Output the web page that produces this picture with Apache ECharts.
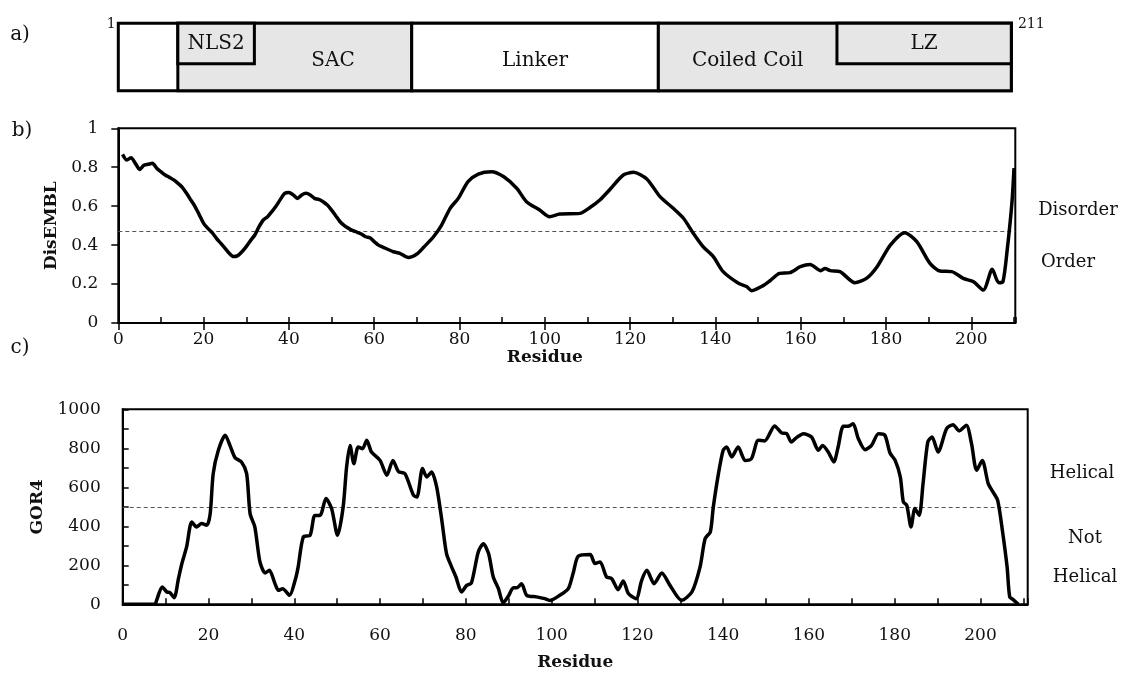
<!DOCTYPE html>
<html>
<head>
<meta charset="utf-8">
<script src="https://cdn.jsdelivr.net/npm/echarts@6/dist/echarts.min.js"></script>
<style>html,body{margin:0;padding:0;background:#fff}#main{width:1126px;height:675px}</style>
</head>
<body>
<div id="main"></div>
<script>
// ---------- data ----------
const domainNames   = ['SAC', 'NLS2', 'Linker', 'Coiled Coil', 'LZ'];
const domainStart   = [15, 15, 70, 128, 170];
const domainEnd     = [70, 33, 128, 211, 211];
const domainLow     = [0, 0.4, 0, 0, 0.4];
const domainShaded  = [true, true, false, true, true];
const sequenceEnds  = [1, 211];

const disResidue = [1,2,3,4,5,6,7,8,9,10,11,12,13,14,15,16,17,18,19,20,21,22,23,24,25,26,27,28,29,30,
  31,32,33,34,35,36,37,38,39,40,41,42,43,44,45,46,47,48,49,50,51,52,53,54,55,56,57,58,59,60,61,62,
  64.5,66,68,70,71.6,73.9,75.8,77.8,79.7,82,84.4,87.5,90.3,93.4,95.7,98.8,101.1,103.5,108.2,110.5,
  112.9,115.3,118.4,120.8,123.9,127,130.1,132.5,134.8,137.1,139.5,141.8,145.4,147.3,148.5,151.2,
  152.8,155,157.5,159.9,162.2,164.7,165.7,166.9,169.2,172.7,175.4,177.9,181,184.4,187.2,190.3,
  192.6,195.4,198.1,200.5,202.8,204.9,206.4,207.4,208.4,209.5,210];
const disValue = [0.866,0.837,0.849,0.82,0.789,0.81,0.815,0.82,0.795,0.777,0.76,0.748,0.735,0.717,0.697,
  0.666,0.632,0.598,0.555,0.512,0.486,0.464,0.435,0.41,0.384,0.358,0.341,0.346,0.366,0.392,0.423,0.452,
  0.495,0.529,0.546,0.572,0.601,0.635,0.666,0.67,0.658,0.64,0.658,0.666,0.658,0.64,0.635,0.623,0.606,
  0.58,0.55,0.52,0.5,0.486,0.474,0.466,0.457,0.443,0.438,0.418,0.40,0.39,
  0.366,0.358,0.336,0.354,0.389,0.443,0.503,0.589,0.64,0.726,0.765,0.777,0.752,0.692,0.623,0.58,0.546,
  0.56,0.563,0.592,0.632,0.687,0.76,0.774,0.74,0.649,0.589,0.538,0.461,0.392,0.341,0.264,0.204,0.187,
  0.166,0.192,0.217,0.255,0.259,0.289,0.301,0.269,0.28,0.269,0.264,0.207,0.229,0.289,0.40,0.464,0.418,
  0.306,0.267,0.264,0.229,0.212,0.169,0.276,0.207,0.212,0.375,0.615,0.795];

const gorResidue = [0,7.5,7.9,9.2,10.3,11,12,13,13.8,14.9,16.1,17.2,18.4,19.6,20.4,21.1,22.3,23.9,25,26.2,
  27.7,28.9,29.7,30.8,32,33.2,34.2,35.5,36.3,37.3,38.9,40.2,40.9,42.1,43.7,44.8,46,47.4,48.7,50.1,51.4,
  52.2,53,53.9,54.9,55.9,56.9,58,60,61.6,63,64.3,65.8,67.8,68.6,69.9,70.9,72,73.2,74.4,75.5,76.7,77.7,
  79,80.2,81.3,82.9,84.1,85.3,86.4,87.6,88.7,89.9,91.1,91.9,93,94.2,96.5,98.4,99.6,101.9,103.9,105.1,
  106.2,109,110.1,111.3,112.8,114,115.5,116.7,117.9,119.7,121,122.2,123.9,125.7,127.6,130.3,132.7,
  134.6,135.8,137,137.7,138.9,140,140.8,142,143.5,145.1,146.6,148.2,149.7,152,153.6,154.8,155.9,157.1,
  158.7,160.6,162.2,163.2,164.5,165.8,166.8,168,169.1,170.3,171.5,173.1,174.6,176.2,177.7,178.9,180.1,
  181.3,182,182.8,183.8,184.7,185.7,186.6,187.7,188.7,190.1,192.1,193.6,195,196.7,197.9,199.1,200.4,
  201.8,202.9,204,205.1,206.2,206.8,207.6,208.8];
const gorValue = [0,0,20,89,63,60,34,132,209,294,422,397,414,405,465,670,790,867,815,752,
  730,670,465,397,217,161,174,106,72,80,46,123,191,345,354,456,456,542,491,354,499,
  704,815,721,807,798,841,781,738,662,738,680,670,559,550,696,653,679,602,431,260,191,140,
  63,97,109,268,311,260,140,80,7,41,85,85,106,46,38,29,20,46,80,166,
  246,255,209,217,140,132,75,120,55,29,123,174,106,161,97,20,63,
  191,337,371,499,670,790,807,756,807,738,747,841,838,915,879,875,832,855,
  875,858,790,815,781,730,807,913,913,926,850,793,815,875,867,776,738,
  653,525,508,397,491,456,619,832,858,781,901,921,889,918,824,687,738,
  619,576,533,379,191,38,24,0];

const disThreshold = 0.47;
const gorThreshold = 500;

// ---------- helpers ----------
const FONT = '"DejaVu Serif", serif';
const pairs = (xs, ys) => xs.map((x, i) => [x, ys[i]]);

// label anchors for domains (centre of the part not covered by a nested domain)
const labelX = [], labelY = [];
domainNames.forEach((n, i) => {
  let a = domainStart[i], b = domainEnd[i];
  if (domainLow[i] === 0) {
    domainNames.forEach((m, j) => {
      if (j !== i && domainLow[j] > 0 && domainStart[j] >= a && domainEnd[j] <= b) {
        if (domainStart[j] === a) a = domainEnd[j]; else if (domainEnd[j] === b) b = domainStart[j];
      }
    });
    labelY.push(0.44);
  } else {
    labelY.push((domainLow[i] + 1) / 2);
  }
  labelX.push((a + b) / 2);
});

const domainData = domainNames.map((n, i) => [domainStart[i], domainEnd[i], domainLow[i], 1, i]);

const axisLabelStyle = { color: '#111', fontFamily: FONT, fontSize: 17, formatter: v => String(v) };
const nameStyle = { color: '#111', fontFamily: FONT, fontSize: 17, fontWeight: 'bold' };
const blackLine = { color: '#000', width: 2 };
const tickLine = { color: '#000', width: 1.5 };

const chart = echarts.init(document.getElementById('main'), null, { renderer: 'canvas' });
chart.setOption({
  animation: false,
  backgroundColor: '#fff',
  grid: [
    { left: 118.3, top: 23.3, width: 893, height: 67.4, show: true, borderColor: '#000', borderWidth: 3, backgroundColor: '#fff' },
    { left: 118.3, top: 128.3, width: 897, height: 194.7, show: true, borderColor: '#000', borderWidth: 2 },
    { left: 118.3, top: 128.3, width: 853, height: 194.7, show: false },
    { left: 122.7, top: 409.3, width: 905, height: 195, show: true, borderColor: '#000', borderWidth: 2 }
  ],
  xAxis: [
    { gridIndex: 0, type: 'value', min: sequenceEnds[0], max: sequenceEnds[1], position: 'top',
      axisLine: { show: false }, axisTick: { show: false }, splitLine: { show: false },
      axisLabel: { show: true, margin: -8, color: '#111', fontFamily: FONT, fontSize: 14,
        showMinLabel: true, showMaxLabel: true,
        formatter: v => v === sequenceEnds[0] ? '{l|' + v + '}' : (v === sequenceEnds[1] ? '{r|' + v + '}' : ''),
        rich: { l: { padding: [0, 14, 0, 0], fontFamily: FONT, fontSize: 14, color: '#111' },
                r: { padding: [0, 0, 0, 40], fontFamily: FONT, fontSize: 14, color: '#111' } } } },
    { gridIndex: 1, type: 'value', min: 0, max: 210.3, interval: 10,
      axisLine: { show: true, lineStyle: blackLine },
      axisTick: { show: true, inside: true, length: 6, lineStyle: tickLine },
      axisLabel: { show: false }, splitLine: { show: false } },
    { gridIndex: 2, type: 'value', min: 0, max: 200, interval: 20,
      axisLine: { show: false },
      axisTick: { show: true, inside: false, length: 7, lineStyle: tickLine },
      axisLabel: Object.assign({}, axisLabelStyle, { margin: 8 }), splitLine: { show: false },
      name: 'Residue', nameLocation: 'middle', nameGap: 21, nameTextStyle: nameStyle },
    { gridIndex: 3, type: 'value', min: 0, max: 211, interval: 10,
      axisLine: { show: true, lineStyle: blackLine },
      axisTick: { show: true, inside: true, length: 6, lineStyle: tickLine },
      axisLabel: Object.assign({}, axisLabelStyle, { margin: 23, formatter: v => (v % 20 === 0 ? String(v) : '') }),
      splitLine: { show: false },
      name: 'Residue', nameLocation: 'middle', nameGap: 50, nameTextStyle: nameStyle }
  ],
  yAxis: [
    { gridIndex: 0, type: 'value', min: 0, max: 1, show: false },
    { gridIndex: 1, type: 'value', min: 0, max: 1, interval: 0.2,
      axisLine: { show: true, lineStyle: blackLine },
      axisTick: { show: true, inside: false, length: 7, lineStyle: tickLine },
      axisLabel: Object.assign({}, axisLabelStyle, { margin: 20 }), splitLine: { show: false },
      name: 'DisEMBL', nameLocation: 'middle', nameRotate: 90, nameGap: 56, nameTextStyle: nameStyle },
    { gridIndex: 2, type: 'value', min: 0, max: 1, show: false },
    { gridIndex: 3, type: 'value', min: 0, max: 1000, interval: 200,
      axisLine: { show: true, lineStyle: blackLine },
      axisTick: { show: true, inside: true, length: 6, lineStyle: tickLine },
      minorTick: { show: true, splitNumber: 2, length: 6, lineStyle: tickLine },
      axisLabel: Object.assign({}, axisLabelStyle, { margin: 22 }), splitLine: { show: false },
      name: 'GOR4', nameLocation: 'middle', nameRotate: 90, nameGap: 61, nameTextStyle: nameStyle }
  ],
  series: [
    { type: 'custom', xAxisIndex: 0, yAxisIndex: 0, data: domainData, clip: false,
      renderItem: function (params, api) {
        const i = api.value(4);
        const p0 = api.coord([api.value(0), api.value(3)]);
        const p1 = api.coord([api.value(1), api.value(2)]);
        const lp = api.coord([labelX[i], labelY[i]]);
        return { type: 'group', children: [
          { type: 'rect', shape: { x: p0[0], y: p0[1], width: p1[0] - p0[0], height: p1[1] - p0[1] },
            style: { fill: domainShaded[i] ? '#e6e6e6' : '#ffffff', stroke: '#000', lineWidth: 3 } },
          { type: 'text', x: lp[0], y: lp[1],
            style: { text: domainNames[i], fill: '#111', font: '20px ' + FONT, align: 'center', verticalAlign: 'middle' } }
        ] };
      } },
    { type: 'line', xAxisIndex: 1, yAxisIndex: 1, data: pairs(disResidue, disValue),
      showSymbol: false, symbol: 'none', smooth: 0.25, z: 5,
      lineStyle: { color: '#000', width: 3.5 },
      markLine: { silent: true, symbol: 'none', label: { show: false },
        lineStyle: { color: '#555', width: 1.2, type: [4, 3] },
        data: [{ yAxis: disThreshold }] } },
    { type: 'line', xAxisIndex: 3, yAxisIndex: 3, data: pairs(gorResidue, gorValue),
      showSymbol: false, symbol: 'none', smooth: 0.25, z: 5,
      lineStyle: { color: '#000', width: 3.5 },
      markLine: { silent: true, symbol: 'none', label: { show: false },
        lineStyle: { color: '#555', width: 1.2, type: [4, 3] },
        data: [[{ coord: [0, gorThreshold] }, { coord: [209, gorThreshold] }]] } }
  ],
  graphic: [
    { type: 'text', x: 20, y: 35, style: { text: 'a)', font: '20px ' + FONT, fill: '#111', align: 'center', verticalAlign: 'middle' } },
    { type: 'text', x: 22, y: 131, style: { text: 'b)', font: '20px ' + FONT, fill: '#111', align: 'center', verticalAlign: 'middle' } },
    { type: 'text', x: 20, y: 348, style: { text: 'c)', font: '20px ' + FONT, fill: '#111', align: 'center', verticalAlign: 'middle' } },
    { type: 'text', x: 1078, y: 210, style: { text: 'Disorder', font: '18px ' + FONT, fill: '#111', align: 'center', verticalAlign: 'middle' } },
    { type: 'text', x: 1068, y: 262, style: { text: 'Order', font: '18px ' + FONT, fill: '#111', align: 'center', verticalAlign: 'middle' } },
    { type: 'text', x: 1082, y: 473, style: { text: 'Helical', font: '18px ' + FONT, fill: '#111', align: 'center', verticalAlign: 'middle' } },
    { type: 'text', x: 1085, y: 538, style: { text: 'Not', font: '18px ' + FONT, fill: '#111', align: 'center', verticalAlign: 'middle' } },
    { type: 'text', x: 1085, y: 577, style: { text: 'Helical', font: '18px ' + FONT, fill: '#111', align: 'center', verticalAlign: 'middle' } }
  ]
});
</script>
</body>
</html>
